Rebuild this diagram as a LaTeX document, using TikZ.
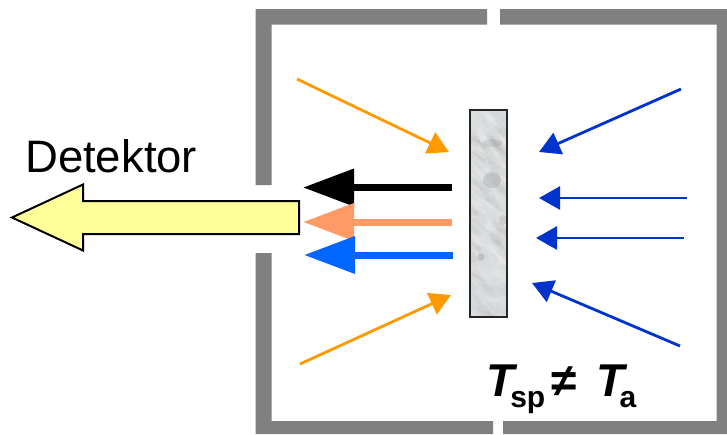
\documentclass[tikz,border=0pt]{standalone}
\usepackage{fontspec}
\setmainfont{Liberation Sans}
\usetikzlibrary{arrows.meta}
\definecolor{wallgray}{HTML}{808080}
\definecolor{orangeray}{HTML}{FF9900}
\definecolor{blueray}{HTML}{0033CC}
\definecolor{salmonray}{HTML}{FF9966}
\definecolor{brightblue}{HTML}{0066FF}
\definecolor{detyellow}{HTML}{FFFF99}
\definecolor{marble}{HTML}{DADDDF}
\tikzset{
 x=1pt,y=-1pt,
 wall/.style={fill=wallgray,draw=none},
 thinray/.style={line width=2.8pt,-{Triangle[length=21pt,width=23pt]}},
 fatray/.style={line width=7pt,-{Triangle[length=51pt,width=36pt]}},
 label/.style={inner sep=0pt,anchor=base west},
}
\newcommand{\bigT}{{\fontsize{46}{46}\selectfont\bfseries\itshape T}}
\newcommand{\subtxt}[1]{\lower11pt\hbox{\fontsize{30}{30}\selectfont\bfseries #1}}
\begin{document}
\begin{tikzpicture}
\useasboundingbox (0,0) rectangle (727,434);
% walls
\fill[wall] (255.5,185) -- (255.5,9) -- (487,9) -- (487,24.5) -- (271.5,24.5) -- (271.5,185) -- cycle;
\fill[wall] (500,9) -- (727,9) -- (727,434) -- (503,434) -- (503,421) -- (716.5,421) -- (716.5,24.5) -- (500,24.5) -- cycle;
\fill[wall] (255.5,253) -- (271.5,253) -- (271.5,421) -- (493,421) -- (493,434) -- (255.5,434) -- cycle;
% specimen
\begin{scope}
\clip (469,109) rectangle (507,317);
\fill[marble] (469,109) rectangle (507,317);
\pgfmathsetseed{4217}
\foreach \i in {1,...,90}{
  \pgfmathsetmacro{\cx}{469+38*rnd}
  \pgfmathsetmacro{\cy}{109+208*rnd}
  \pgfmathsetmacro{\rx}{5+9*rnd}
  \pgfmathsetmacro{\ry}{1.5+3*rnd}
  \pgfmathsetmacro{\ang}{-25-30*rnd}
  \fill[black!55,opacity=.05,rotate around={\ang:(\cx,\cy)}] (\cx,\cy) ellipse [x radius=\rx,y radius=\ry];
  \pgfmathsetmacro{\wx}{469+38*rnd}
  \pgfmathsetmacro{\wy}{109+208*rnd}
  \fill[white,opacity=.09,rotate around={\ang:(\wx,\wy)}] (\wx,\wy) ellipse [x radius=\rx,y radius=\ry];
}
\fill[black!60,opacity=.25] (481,257) circle (3.5);
\fill[black!60,opacity=.15] (492,143) ellipse [x radius=10,y radius=4];
\fill[black!60,opacity=.18] (492,180) ellipse [x radius=9,y radius=8];
\fill[black!60,opacity=.15] (503,220) ellipse [x radius=4,y radius=5];
\end{scope}
\draw[line width=2pt,black!85] (470,110) rectangle (507,316.5);
% thick rays
\coordinate (bs) at (452,187.5); \coordinate (bt) at (303,187.5);
\coordinate (ss) at (452,222); \coordinate (st) at (303,222);
\coordinate (cs) at (453,255); \coordinate (ct) at (304,255);
\draw[fatray,black] (bs) -- (bt);
\draw[fatray,salmonray] (ss) -- (st);
\draw[fatray,brightblue] (cs) -- (ct);
% detector arrow
\draw[line width=2pt,fill=detyellow,miter limit=10] (299,201) -- (83,201) -- (83,184.5) -- (12,217.5) -- (83,250.5) -- (83,234) -- (299,234) -- cycle;
\node[label,font=\fontsize{45.5}{45.5}\selectfont] (det) at (25,172) {Detektor};
% thin rays
\coordinate (o1s) at (297,79); \coordinate (o1t) at (449,152);
\coordinate (o2s) at (300,364); \coordinate (o2t) at (451,295);
\draw[thinray,orangeray] (o1s) -- (o1t);
\draw[thinray,orangeray] (o2s) -- (o2t);
\coordinate (b1s) at (681,89); \coordinate (b1t) at (539,152);
\coordinate (b2s) at (687,198); \coordinate (b2t) at (539,198);
\coordinate (b3s) at (684,238); \coordinate (b3t) at (536,238);
\coordinate (b4s) at (680,346); \coordinate (b4t) at (532,283);
\foreach \k in {1,2,3,4}{\draw[thinray,blueray] (b\k s) -- (b\k t);}
% label
\node[label] (formula) at (486,396) {\bigT\kern-4pt\subtxt{sp}\kern6pt{\fontsize{46}{46}\selectfont\bfseries ≠}\kern20pt\bigT\kern-5pt\subtxt{a}};
\end{tikzpicture}
\end{document}
